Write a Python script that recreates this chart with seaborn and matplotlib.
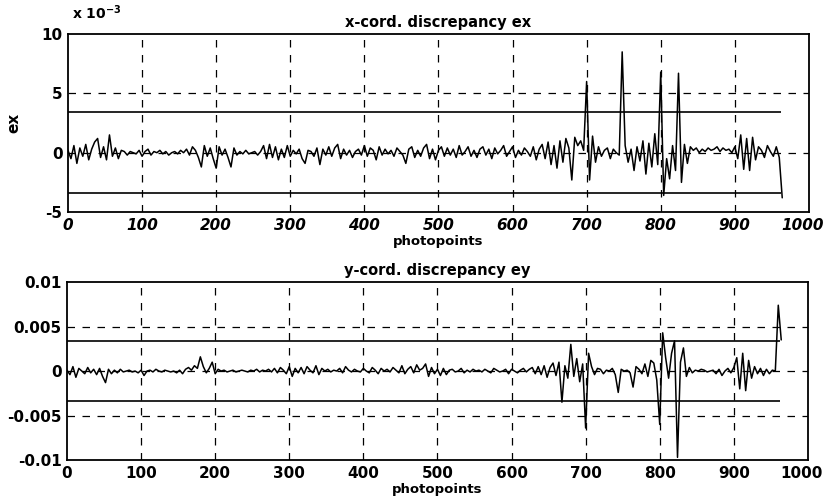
import numpy as np
import pandas as pd
import matplotlib
matplotlib.use("Agg")
import matplotlib.pyplot as plt
import matplotlib.transforms as mtransforms
import seaborn as sns
from matplotlib.ticker import FuncFormatter

# ---- data, units of 1e-3, photopoints 0..964 step 4 ----
photopoints = list(range(0, 965, 4))

ex_milli = [
    0.2, -0.5, 0.6, -0.9, 0.4, -0.3, 0.7, -0.6, 0.3, 0.9,
    1.2, -0.4, 0.5, -0.6, 1.5, -0.3, 0.4, -0.5, 0.2, 0.1,
    -0.2, 0.1, 0.0, -0.1, 0.2, -0.3, 0.1, 0.3, -0.2, 0.1,
    0.0, 0.2, -0.1, 0.1, -0.2, 0.0, 0.1, -0.1, 0.2, 0.0,
    0.3, -0.2, 0.5, 0.2, -0.4, -1.2, 0.6, -0.3, 0.4, -0.5,
    -1.3, 0.5, -0.2, 0.3, -0.4, -1.2, 0.4, -0.2, 0.1, -0.1,
    0.2, -0.1, 0.0, 0.1, -0.2, 0.1, 0.6, -0.5, 0.7, -0.4,
    0.5, -0.6, 0.3, -0.4, 0.6, -0.3, 0.2, -0.1, 0.3, -0.5,
    -0.9, 0.2, 0.1, -0.3, 0.4, -1.0, 0.3, -0.2, 0.5, -0.3,
    0.4, 0.7, -0.5, 0.3, -0.2, 0.2, -0.4, 0.1, 0.3, -0.2,
    0.6, -0.3, 0.4, 0.2, -0.6, 0.5, -0.2, 0.3, -0.1, 0.2,
    -0.3, 0.4, 0.1, -0.2, -0.9, 0.3, 0.5, -0.4, 0.2, -0.3,
    0.4, 0.7, -0.5, 0.3, -0.6, 0.2, 0.5, -0.3, 0.4, -0.2,
    0.3, -0.4, 0.6, -0.2, 0.1, 0.5, -0.3, 0.2, -0.4, 0.3,
    0.5, -0.2, 0.3, -0.5, 0.4, -0.1, 0.2, 0.6, -0.3, 0.1,
    0.5, -0.4, 0.2, -0.2, 0.4, 0.1, -0.3, 0.5, -0.6, 0.3,
    0.7, -0.5, 0.9, -1.0, 0.6, -1.3, 1.0, -0.8, 1.2, 0.4,
    -2.3, 1.3, 0.6, 1.0, 0.2, 6.0, -2.3, 1.4, -0.8, 0.5,
    -0.3, 0.2, 0.4, -0.5, 0.3, 0.0, -0.2, 8.5, 0.6, -0.8,
    0.3, -1.5, 0.5, -0.7, 1.0, -1.8, 0.8, -1.2, 1.6, -1.0,
    6.8, -3.6, -0.5, -2.2, 0.6, -1.5, 6.7, -2.5, 0.7, -0.9,
    0.5, 0.2, 0.4, 0.0, 0.3, 0.1, 0.4, 0.2, 0.3, 0.5,
    0.1, 0.4, 0.2, 0.3, 0.0, 0.5, -0.5, 1.5, -1.4, 1.2,
    -1.5, 1.3, -0.6, 0.5, 0.2, -0.4, 0.6, 0.1, -0.3, 0.5,
    -0.4, -3.8,
]

ey_milli = [
    0.1, -0.4, 0.5, -0.7, 0.3, 0.0, -0.3, 0.4, -0.2, 0.2,
    -0.4, 0.3, -0.6, -1.3, 0.2, -0.3, 0.1, -0.2, 0.2, -0.1,
    0.0, 0.1, -0.1, 0.0, -0.2, 0.1, -0.5, 0.0, 0.1, -0.1,
    0.2, 0.0, -0.1, 0.1, 0.0, -0.1, 0.0, -0.2, 0.1, -0.3,
    0.2, 0.4, 0.1, 0.6, 0.3, 1.6, 0.5, -0.2, 0.3, 1.0,
    -0.3, 0.2, 0.0, 0.1, -0.1, 0.0, 0.1, -0.1, 0.0, 0.1,
    0.0, -0.1, 0.1, 0.0, 0.2, -0.1, 0.1, 0.0, 0.2, -0.1,
    0.3, -0.2, 0.4, 0.1, -0.3, 0.5, -0.6, 0.3, -0.2, 0.4,
    -0.3, 0.5, 0.1, -0.2, 0.6, -0.4, 0.3, 0.0, 0.2, -0.1,
    0.1, 0.0, 0.3, -0.2, 0.5, 0.1, -0.1, 0.2, 0.0, -0.1,
    0.3, 0.0, -0.2, 0.4, 0.1, -0.3, 0.3, 0.0, 0.2, -0.1,
    0.4, 0.1, -0.2, 0.6, -0.3, 0.2, 0.5, -0.2, 0.7, 0.1,
    0.3, 0.8, -0.6, 0.4, -0.3, 0.2, -0.5, 0.3, -0.4, 0.1,
    0.2, -0.1, 0.0, 0.3, -0.2, 0.1, -0.1, 0.2, 0.0, 0.1,
    -0.1, 0.2, 0.0, -0.2, 0.3, 0.1, -0.1, 0.0, 0.2, -0.3,
    0.2, 0.0, -0.2, 0.1, 0.3, -0.1, 0.2, 0.4, -0.3, 0.5,
    -0.4, 0.6, -0.7, 0.4, 0.9, -0.5, 1.0, -3.5, 0.6, -0.8,
    3.0, -0.6, 1.4, -1.2, 0.8, -6.4, 2.0, 0.5, -0.4, 0.3,
    0.2, -0.3, 0.1, 0.0, 0.3, -0.4, -2.4, 0.2, 0.0, 0.1,
    -0.2, -1.8, 0.5, 0.2, -0.3, 0.8, -0.6, 1.2, 0.9, -1.0,
    -6.0, 4.3, 1.5, -0.8, 2.0, 3.4, -9.7, 1.0, 2.6, -0.6,
    0.4, -0.2, 0.1, 0.0, 0.2, 0.1, -0.1, 0.0, 0.1, -0.3,
    0.2, -0.5, 0.0, 0.3, -0.2, 0.4, 1.5, -2.0, 2.0, -2.2,
    1.2, -0.8, 0.5, -0.3, 0.3, -0.5, 0.2, -0.3, 0.1, 0.0,
    7.4, 3.5,
]

threshold = 0.0034
threshold_end = 962
x_ticks = [0, 100, 200, 300, 400, 500, 600, 700, 800, 900, 1000]
top_yticks = [-0.005, 0.0, 0.005, 0.010]
bot_yticks = [-0.01, -0.005, 0.0, 0.005, 0.01]
bot_yticklabels = ["-0.01", "-0.005", "0", "0.005", "0.01"]
top_title = "x-cord. discrepancy ex"
bot_title = "y-cord. discrepancy ey"
xlabel = "photopoints"

df = pd.DataFrame({
    "photopoint": photopoints,
    "ex": np.array(ex_milli) * 1e-3,
    "ey": np.array(ey_milli) * 1e-3,
})

sns.set_style("white")
plt.rcParams["font.family"] = ["DejaVu Sans"]
plt.rcParams["font.weight"] = "bold"
plt.rcParams["axes.unicode_minus"] = False
for k in ["text.color", "axes.labelcolor", "xtick.color", "ytick.color",
          "axes.edgecolor"]:
    plt.rcParams[k] = "black"

fig = plt.figure(figsize=(8.26, 4.97), dpi=100)
ax1 = fig.add_axes([0.0823, 0.5734, 0.897, 0.358])
ax2 = fig.add_axes([0.0811, 0.0744, 0.897, 0.358])

grid_kw = dict(color="black", linewidth=0.9, linestyle=(0, (6, 6)), zorder=1)
shift_left = mtransforms.ScaledTranslation(-6 / 100, 0, fig.dpi_scale_trans)

for ax, col, yt, ylim in [(ax1, "ex", top_yticks, (-0.005, 0.010)),
                           (ax2, "ey", bot_yticks, (-0.01, 0.01))]:
    sns.lineplot(data=df, x="photopoint", y=col, ax=ax, color="black",
                 linewidth=1.1, zorder=3)
    ax.set_xlim(0, 1000)
    ax.set_ylim(*ylim)
    ax.set_xticks(x_ticks)
    ax.set_yticks(yt)
    for xv in x_ticks[1:-1]:
        ax.axvline(xv, **grid_kw)
    for yv in yt[1:-1]:
        ax.axhline(yv, **grid_kw)
    ax.hlines([threshold, -threshold], 0, threshold_end, color="black",
              linewidth=1.2, zorder=2)
    for s in ax.spines.values():
        s.set_color("black")
        s.set_linewidth(1.3)
    ax.tick_params(axis="both", length=0, pad=4, labelsize=11)
    ax.set_xlabel(xlabel, fontsize=9.5, fontweight="bold", labelpad=2)
    ax.set_ylabel("")

ax1.yaxis.set_major_formatter(FuncFormatter(lambda v, p: f"{round(v * 1000):d}"))
ax2.set_yticklabels(bot_yticklabels)
fig.canvas.draw()
for lbl in ax1.get_xticklabels():
    lbl.set_fontstyle("italic")
for ax in (ax1, ax2):
    last = ax.get_xticklabels()[-1]
    last.set_transform(last.get_transform() + shift_left)

ax1.set_ylabel("ex", fontsize=11, fontweight="bold", labelpad=14)

ax1.set_title(top_title, fontsize=10.5, fontweight="bold", pad=5)
ax2.set_title(bot_title, fontsize=10.5, fontweight="bold", pad=5)
fig.text(0.087, 0.955, r"x 10$^{-3}$", fontsize=10, fontweight="bold",
         ha="left", va="bottom")

fig.savefig("out.png", dpi=100, facecolor="white")
